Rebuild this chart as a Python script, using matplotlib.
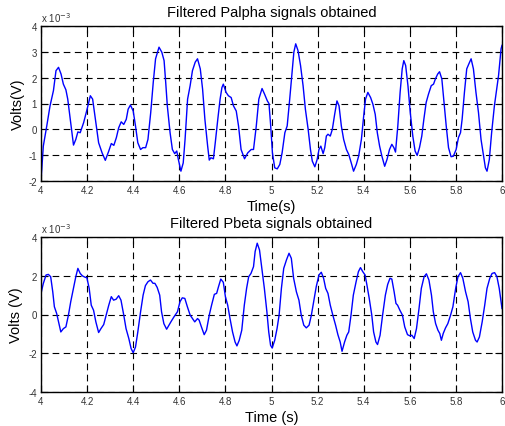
import matplotlib
matplotlib.use("Agg")
import matplotlib.pyplot as plt

plt.rcParams['font.family'] = ['Liberation Sans', 'DejaVu Sans']

# Palpha signal (values in units of 1e-3 V)
t_alpha = [4.000, 4.010, 4.025, 4.039, 4.054, 4.065, 4.076, 4.087, 4.097, 4.108, 4.116, 4.127, 4.141, 4.151, 4.160, 4.170,
           4.185, 4.200, 4.214, 4.224, 4.236, 4.250, 4.265, 4.279, 4.294, 4.305, 4.316, 4.327, 4.337, 4.348, 4.359, 4.370,
           4.378, 4.388, 4.400, 4.410, 4.420, 4.432, 4.442, 4.454, 4.464, 4.476, 4.487, 4.497, 4.512, 4.524, 4.534, 4.541,
           4.548, 4.560, 4.570, 4.580, 4.589, 4.596, 4.607, 4.617, 4.625, 4.636, 4.647, 4.657, 4.669, 4.679, 4.691, 4.701,
           4.711, 4.723, 4.730, 4.737, 4.748, 4.756, 4.767, 4.777, 4.785, 4.791, 4.803, 4.813, 4.825, 4.835, 4.847, 4.857,
           4.868, 4.883, 4.897, 4.912, 4.922, 4.934, 4.945, 4.959, 4.970, 4.982, 4.989, 4.996, 5.004, 5.014, 5.025, 5.036,
           5.046, 5.058, 5.068, 5.079, 5.089, 5.097, 5.105, 5.115, 5.126, 5.137, 5.147, 5.159, 5.169, 5.177, 5.188, 5.198,
           5.206, 5.214, 5.224, 5.231, 5.238, 5.245, 5.255, 5.264, 5.274, 5.284, 5.293, 5.303, 5.313, 5.325, 5.335, 5.346,
           5.356, 5.368, 5.378, 5.390, 5.400, 5.408, 5.418, 5.430, 5.440, 5.450, 5.459, 5.469, 5.479, 5.491, 5.501, 5.512,
           5.522, 5.531, 5.538, 5.548, 5.558, 5.567, 5.574, 5.582, 5.592, 5.602, 5.613, 5.623, 5.632, 5.642, 5.652, 5.661,
           5.671, 5.681, 5.693, 5.703, 5.711, 5.721, 5.729, 5.739, 5.747, 5.758, 5.768, 5.779, 5.789, 5.801, 5.811, 5.820,
           5.827, 5.837, 5.847, 5.856, 5.866, 5.876, 5.887, 5.898, 5.909, 5.919, 5.928, 5.935, 5.945, 5.955, 5.967, 5.977,
           5.985, 5.996, 6.000]
v_alpha = [-2.00, -0.65, 0.13, 0.90, 1.50, 2.27, 2.40, 2.14, 1.75, 1.53, 1.17, 0.39, -0.61, -0.39, -0.10, -0.13,
           0.26, 0.78, 1.30, 1.17, 0.39, -0.52, -0.91, -1.20, -0.84, -0.55, -0.62, -0.32, 0.06, 0.29, 0.19, 0.39,
           0.78, 0.94, 0.71, 0.13, -0.52, -0.78, -0.71, -0.71, -0.39, 0.65, 1.82, 2.73, 3.18, 2.99, 2.66, 1.82,
           0.91, -0.13, -0.78, -0.94, -0.84, -1.17, -1.62, -1.30, -0.39, 1.17, 1.69, 2.27, 2.60, 2.73, 2.34, 1.56,
           0.39, -0.65, -1.19, -1.10, -1.14, -0.52, 0.39, 1.17, 1.62, 1.75, 1.43, 1.30, 1.23, 0.91, 0.71, 0.13,
           -0.78, -1.14, -0.91, -0.78, -0.78, 0.13, 1.17, 1.58, 1.36, 1.10, 1.00, 0.20, -0.91, -1.49, -1.53, -1.36,
           -0.91, -0.13, 0.13, 1.17, 2.20, 2.99, 3.31, 3.05, 2.47, 1.69, 0.78, 0.00, -0.78, -1.23, -1.45, -1.17,
           -0.78, -0.65, -0.94, -0.71, -0.26, -0.19, -0.26, 0.00, 0.58, 1.10, 0.91, 0.13, -0.39, -0.78, -0.97, -1.30,
           -1.62, -1.36, -1.04, -0.39, 0.52, 1.17, 1.43, 1.23, 0.97, 0.58, -0.13, -0.65, -1.04, -1.43, -1.17, -0.78,
           -0.58, -0.71, -0.88, 0.13, 1.43, 2.34, 2.66, 2.47, 1.69, 0.65, -0.26, -0.84, -1.01, -0.71, -0.26, 0.39,
           1.04, 1.36, 1.69, 1.75, 1.95, 2.14, 2.23, 1.95, 1.17, 0.13, -0.71, -1.06, -1.04, -0.78, -0.32, -0.13,
           0.39, 1.43, 2.34, 2.53, 2.73, 2.34, 1.43, 0.65, -0.39, -0.97, -1.49, -1.62, -1.17, -0.13, 0.91, 1.56,
           2.08, 3.12, 3.25]

# Pbeta signal (values in units of 1e-3 V)
t_beta = [4.000, 4.010, 4.022, 4.032, 4.042, 4.051, 4.058, 4.068, 4.076, 4.086, 4.097, 4.108, 4.119, 4.129, 4.141, 4.151,
          4.160, 4.170, 4.180, 4.192, 4.199, 4.209, 4.218, 4.228, 4.238, 4.250, 4.260, 4.272, 4.283, 4.294, 4.305, 4.315,
          4.326, 4.337, 4.347, 4.359, 4.369, 4.381, 4.391, 4.400, 4.410, 4.420, 4.432, 4.443, 4.453, 4.464, 4.475, 4.486,
          4.494, 4.504, 4.515, 4.523, 4.533, 4.545, 4.555, 4.565, 4.577, 4.592, 4.603, 4.613, 4.624, 4.635, 4.647, 4.657,
          4.667, 4.679, 4.686, 4.696, 4.708, 4.718, 4.730, 4.740, 4.752, 4.762, 4.770, 4.780, 4.791, 4.800, 4.810, 4.820,
          4.831, 4.842, 4.850, 4.860, 4.871, 4.882, 4.892, 4.901, 4.911, 4.922, 4.929, 4.938, 4.948, 4.958, 4.969, 4.980,
          4.988, 4.996, 5.003, 5.014, 5.024, 5.033, 5.043, 5.053, 5.065, 5.076, 5.086, 5.096, 5.108, 5.119, 5.129, 5.140,
          5.151, 5.163, 5.173, 5.183, 5.194, 5.206, 5.216, 5.226, 5.235, 5.245, 5.255, 5.266, 5.278, 5.288, 5.298, 5.306,
          5.317, 5.327, 5.335, 5.345, 5.355, 5.367, 5.377, 5.386, 5.396, 5.406, 5.414, 5.424, 5.435, 5.443, 5.453, 5.460,
          5.471, 5.482, 5.494, 5.504, 5.514, 5.522, 5.532, 5.540, 5.547, 5.557, 5.568, 5.578, 5.590, 5.600, 5.609, 5.619,
          5.629, 5.640, 5.650, 5.662, 5.672, 5.683, 5.694, 5.702, 5.712, 5.722, 5.730, 5.737, 5.745, 5.755, 5.765, 5.777,
          5.787, 5.799, 5.809, 5.820, 5.830, 5.842, 5.853, 5.863, 5.873, 5.885, 5.892, 5.902, 5.914, 5.925, 5.935, 5.947,
          5.957, 5.968, 5.978, 5.988, 5.997, 6.000]
v_beta = [1.09, 1.60, 2.04, 2.07, 1.95, 1.17, 0.40, 0.05, -0.38, -0.90, -0.73, -0.64, -0.03, 0.66, 1.35, 1.95,
          2.38, 2.12, 1.99, 1.92, 1.90, 1.35, 0.48, 0.22, -0.38, -0.93, -0.73, -0.52, -0.03, 0.48, 0.92, 0.74,
          0.79, 0.97, 0.74, -0.03, -0.73, -1.24, -1.76, -1.97, -1.68, -0.90, 0.14, 1.00, 1.49, 1.69, 1.78, 1.61,
          1.61, 1.40, 1.00, 0.14, -0.47, -0.76, -0.55, -0.35, -0.12, 0.14, 0.66, 0.86, 0.83, 0.40, -0.03, -0.21,
          -0.38, -0.21, -0.29, -0.64, -1.04, -0.81, -0.03, 0.48, 1.04, 1.09, 1.43, 1.83, 1.66, 0.92, 0.48, -0.21,
          -0.90, -1.42, -1.62, -1.33, -0.81, 0.48, 1.35, 1.95, 2.12, 2.47, 3.25, 3.68, 3.33, 2.38, 1.35, 0.14,
          -0.90, -1.59, -1.73, -1.33, -0.73, -0.03, 1.35, 2.38, 2.82, 3.16, 2.90, 1.87, 1.17, 0.74, -0.03, -0.55,
          -0.69, -0.55, -0.03, 0.66, 1.43, 2.04, 2.18, 1.87, 1.35, 1.09, 0.48, -0.03, -0.55, -1.04, -1.42, -1.90,
          -1.42, -1.07, -0.90, -0.03, 1.00, 1.69, 2.21, 2.42, 2.21, 2.04, 1.52, 0.83, -0.03, -0.90, -1.42, -1.55,
          -1.07, -0.03, 1.00, 1.55, 1.87, 1.83, 1.17, 0.57, 0.48, 0.22, -0.03, -0.64, -1.04, -1.10, -1.07, -1.24,
          -0.73, 0.31, 1.35, 1.95, 2.10, 1.78, 1.00, 0.14, -0.47, -0.81, -0.98, -1.33, -0.98, -0.69, -0.47, -0.03,
          0.40, 1.35, 1.95, 2.16, 1.87, 1.17, 0.66, -0.21, -0.90, -1.33, -1.42, -1.16, -0.38, 0.48, 1.35, 1.87,
          2.12, 2.16, 1.95, 1.35, 0.57, 0.31]

x_ticks = [4, 4.2, 4.4, 4.6, 4.8, 5, 5.2, 5.4, 5.6, 5.8, 6]
x_tick_labels = ['4', '4.2', '4.4', '4.6', '4.8', '5', '5.2', '5.4', '5.6', '5.8', '6']
y_ticks_alpha = [-2, -1, 0, 1, 2, 3, 4]
y_ticks_beta = [-4, -2, 0, 2, 4]

W, H = 505, 427
fig = plt.figure(figsize=(W / 100, H / 100), dpi=100)

def ax_rect(left, top, right, bottom):
    return [left / W, 1 - bottom / H, (right - left) / W, (bottom - top) / H]

ax1 = fig.add_axes(ax_rect(41, 27, 502, 182))
ax2 = fig.add_axes(ax_rect(41, 238, 502, 393))

def style(ax, yticks, ylim):
    ax.set_xlim(4, 6)
    ax.set_ylim(*ylim)
    ax.set_xticks(x_ticks)
    ax.set_xticklabels(x_tick_labels)
    ax.set_yticks(yticks)
    ax.set_yticklabels([str(v) for v in yticks])
    ax.tick_params(direction='in', length=5, width=0.8, labelsize=7, pad=3,
                   top=True, right=True, colors='black', labelcolor='#333333')
    ax.grid(True, color='black', linestyle=(0, (6, 4)), linewidth=0.8)
    for s in ax.spines.values():
        s.set_linewidth(1.0)
        s.set_color('black')
    ax.text(0.0, 1.015, r'x 10$^{-3}$', transform=ax.transAxes, fontsize=7,
            ha='left', va='bottom', color='#333333')

ax1.plot(t_alpha, v_alpha, color='#0000ff', linewidth=1.0)
style(ax1, y_ticks_alpha, (-2, 4))
ax1.set_title('Filtered Palpha signals obtained', fontsize=10.5, pad=7)
ax1.set_xlabel('Time(s)', fontsize=10.5, labelpad=3)
ax1.set_ylabel('Volts(V)', fontsize=10.5, labelpad=2)

ax2.plot(t_beta, v_beta, color='#0000ff', linewidth=1.0)
style(ax2, y_ticks_beta, (-4, 4))
ax2.set_title('Filtered Pbeta signals obtained', fontsize=10.5, pad=7)
ax2.set_xlabel('Time (s)', fontsize=10.5, labelpad=3)
ax2.set_ylabel('Volts (V)', fontsize=10.5, labelpad=4)

fig.savefig('out.png', dpi=100)
